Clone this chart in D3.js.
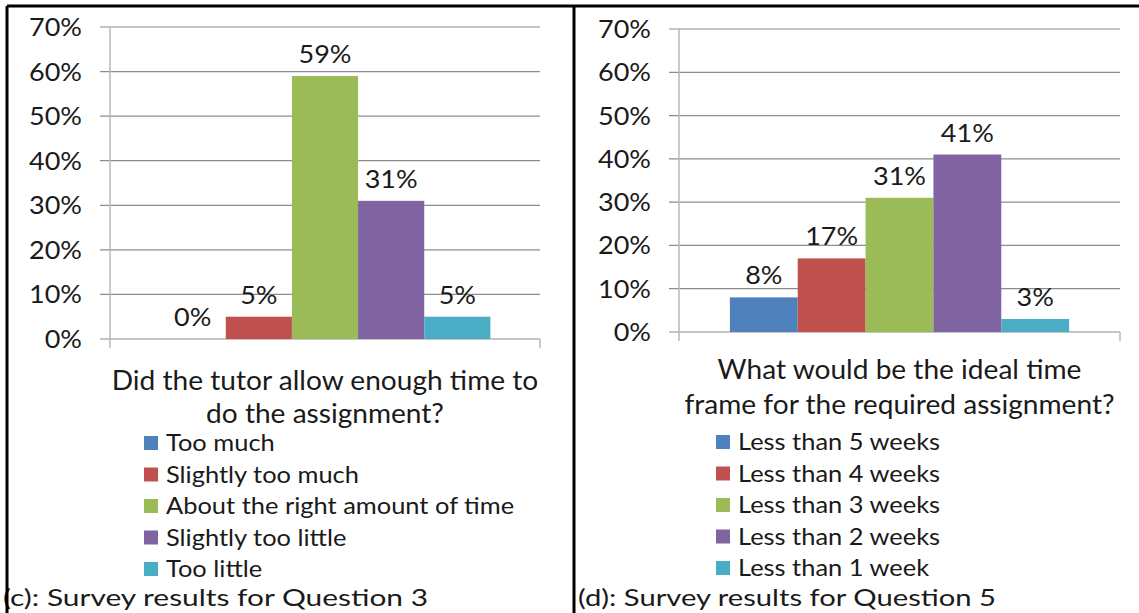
<!DOCTYPE html>
<html><head><meta charset="utf-8">
<script src="https://cdn.jsdelivr.net/npm/d3@7"></script>
<style>
html,body{margin:0;padding:0;background:#fff;}
text{font-family:Lato, "Open Sans", sans-serif; fill:#1a1a1a;}
</style></head>
<body>
<svg id="c" width="1139" height="613"></svg>
<script>
const colors = ["#4F81BD","#C0504D","#9BBB59","#8064A2","#4BACC6"];
const yTicks = [0,10,20,30,40,50,60,70];

const leftCategories = ["Too much","Slightly too much","About the right amount of time","Slightly too little","Too little"];
const leftValues = [0,5,59,31,5];
const leftTitle = ["Did the tutor allow enough time to","do the assignment?"];
const leftCaption = "(c): Survey results for Question 3";

const rightCategories = ["Less than 5 weeks","Less than 4 weeks","Less than 3 weeks","Less than 2 weeks","Less than 1 week"];
const rightValues = [8,17,31,41,3];
const rightTitle = ["What would be the ideal time","frame for the required assignment?"];
const rightCaption = "(d): Survey results for Question 5";

const svg = d3.select("#c");

function stretch(sel, k){
  sel.each(function(){
    const w = this.getComputedTextLength();
    d3.select(this).attr("textLength", w*k).attr("lengthAdjust","spacingAndGlyphs");
  });
}

function panel(cfg){
  const g = svg.append("g");
  const y = d3.scaleLinear().domain([0,70]).range([cfg.y0, cfg.y70]);
  const x = d3.scaleBand().domain(cfg.cats).range([cfg.xa, cfg.xb]).paddingOuter(0.75).paddingInner(0);
  g.selectAll(".grid").data(yTicks).join("line")
    .attr("x1", cfg.xa-10).attr("x2", cfg.xb)
    .attr("y1", d=>y(d)).attr("y2", d=>y(d))
    .attr("stroke", "#8c8c8c").attr("stroke-width", 1.2);
  g.append("line").attr("x1",cfg.xa).attr("x2",cfg.xa).attr("y1",y(70)).attr("y2",y(0)+9)
    .attr("stroke","#b8b8b8").attr("stroke-width",1.5);
  g.append("line").attr("x1",cfg.xb).attr("x2",cfg.xb).attr("y1",y(0)).attr("y2",y(0)+9)
    .attr("stroke","#b8b8b8").attr("stroke-width",1.5);
  const tl = g.selectAll(".tl").data(yTicks).join("text")
    .attr("x", cfg.xa-28).attr("y", d=>y(d)+9)
    .attr("text-anchor","end").attr("font-size",25)
    .text(d=>d+"%");
  stretch(tl, 1.08);
  g.selectAll(".bar").data(cfg.vals).join("rect")
    .attr("x",(d,i)=>x(cfg.cats[i])).attr("width",x.bandwidth())
    .attr("y",d=>y(d)).attr("height",d=>y(0)-y(d))
    .attr("fill",(d,i)=>colors[i]);
  const lab = g.selectAll(".lab").data(cfg.vals).join("text")
    .attr("x",(d,i)=>x(cfg.cats[i])+x.bandwidth()/2).attr("y",d=>y(d)-13)
    .attr("text-anchor","middle").attr("font-size",25)
    .text(d=>d+"%");
  stretch(lab, 1.08);
  const at = g.selectAll(".at").data(cfg.title).join("text")
    .attr("x",(cfg.xa+cfg.xb)/2 + cfg.tdx).attr("y",(d,i)=>cfg.ty+i*cfg.tdy)
    .attr("text-anchor","middle").attr("font-size",26)
    .text(d=>d);
  stretch(at, 1.08);
  const lg = g.selectAll(".lg").data(cfg.cats).join("g")
    .attr("transform",(d,i)=>`translate(${cfg.lx},${cfg.ly+i*31.5})`);
  lg.append("rect").attr("x",0).attr("y",-7).attr("width",14).attr("height",14)
    .attr("fill",(d,i)=>colors[i]);
  const lt = lg.append("text").attr("x",22).attr("y",8).attr("font-size",24).text(d=>d);
  stretch(lt, 1.06);
  g.append("text").attr("x",cfg.cx).attr("y",606).attr("font-size",23)
    .attr("textLength",cfg.cw).attr("lengthAdjust","spacingAndGlyphs")
    .text(cfg.caption);
}

panel({cats:leftCategories, vals:leftValues, title:leftTitle, caption:leftCaption,
  y0:339, y70:27, xa:110, xb:540, tdx:0, ty:390, tdy:33, lx:144, ly:443, cx:3, cw:425});
panel({cats:rightCategories, vals:rightValues, title:rightTitle, caption:rightCaption,
  y0:332, y70:29, xa:679, xb:1120, tdx:0, ty:379, tdy:35, lx:716, ly:442, cx:578, cw:418});

const frame = [[7,6,1139,6],[7,6,7,613],[574,6,574,613]];
svg.selectAll(".fr").data(frame).join("line")
  .attr("x1",d=>d[0]).attr("y1",d=>d[1]).attr("x2",d=>d[2]).attr("y2",d=>d[3])
  .attr("stroke","#000").attr("stroke-width",3);
</script>
</body></html>
